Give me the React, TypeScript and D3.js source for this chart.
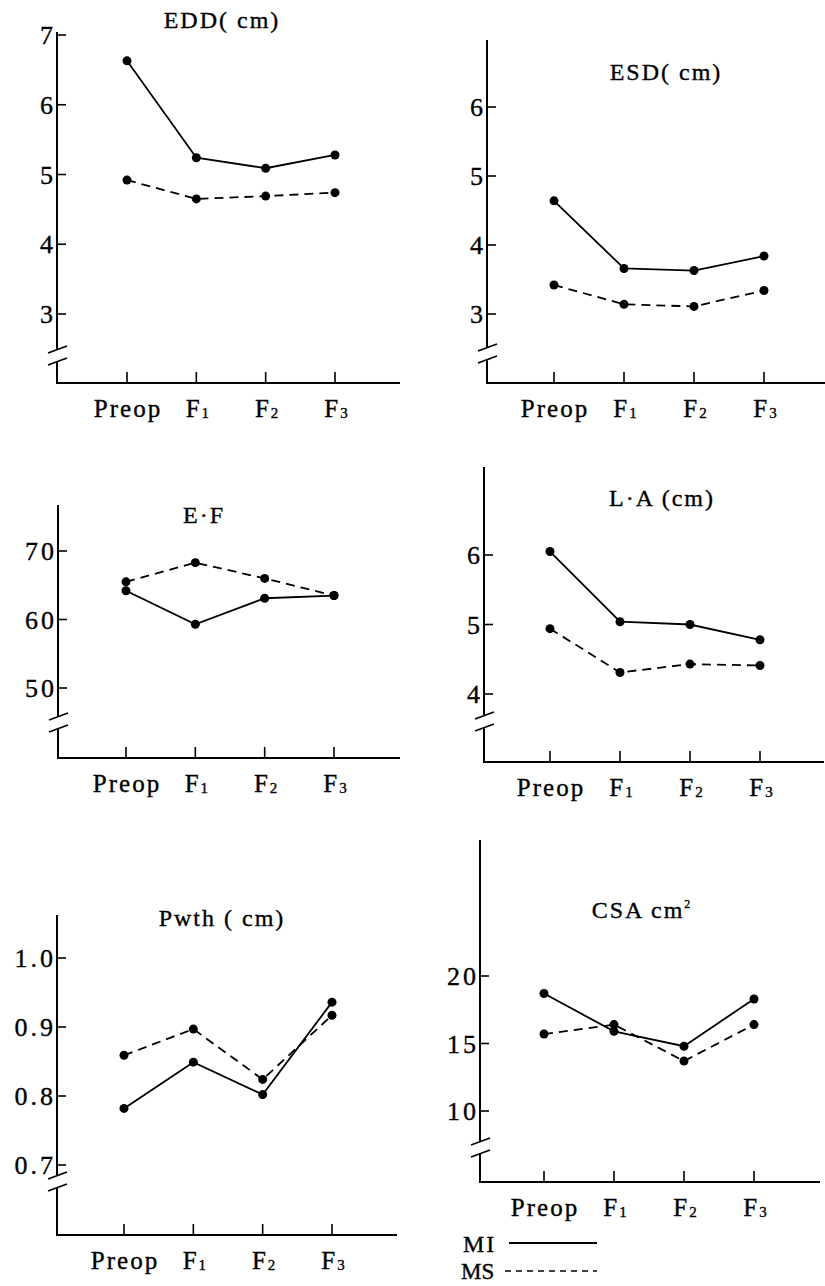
import React, { useEffect, useRef } from "react";
import * as d3 from "d3";

// x categories
const stages = ["Preop", "F1", "F2", "F3"];

// values (MI = solid, MS = dashed)
const eddMI = [6.63, 5.24, 5.09, 5.28];
const eddMS = [4.92, 4.65, 4.69, 4.74];
const eddTicks = [3, 4, 5, 6, 7];

const esdMI = [4.64, 3.66, 3.63, 3.84];
const esdMS = [3.42, 3.14, 3.11, 3.34];
const esdTicks = [3, 4, 5, 6];

const efMI = [64.2, 59.3, 63.1, 63.5];
const efMS = [65.5, 68.3, 66.0, 63.5];
const efTicks = [50, 60, 70];

const laMI = [6.05, 5.04, 5.0, 4.78];
const laMS = [4.94, 4.31, 4.43, 4.41];
const laTicks = [4, 5, 6];

const pwthMI = [0.782, 0.849, 0.802, 0.936];
const pwthMS = [0.859, 0.897, 0.824, 0.917];
const pwthTicks = [0.7, 0.8, 0.9, 1.0];

const csaMI = [18.7, 15.9, 14.8, 18.3];
const csaMS = [15.7, 16.4, 13.7, 16.4];
const csaTicks = [10, 15, 20];

const FONT = "Liberation Serif, DejaVu Serif, serif";

// layout of each small chart on the page
const panels = [
  { title: "EDD( cm)", sup: "", mi: eddMI, ms: eddMS, ticks: eddTicks, fmt: d3.format("d"),
    axisX: 57, top: 32, baseY: 383, xEnd: 400, xRange: [127, 335], yRange: [314, 35], breakY: 355, titleX: 222, titleY: 28 },
  { title: "ESD( cm)", sup: "", mi: esdMI, ms: esdMS, ticks: esdTicks, fmt: d3.format("d"),
    axisX: 487, top: 40, baseY: 383, xEnd: 825, xRange: [554, 764], yRange: [314, 107], breakY: 353, titleX: 666, titleY: 80 },
  { title: "E·F", sup: "", mi: efMI, ms: efMS, ticks: efTicks, fmt: d3.format("d"),
    axisX: 58, top: 505, baseY: 758, xEnd: 400, xRange: [126, 334], yRange: [688, 551], breakY: 722, titleX: 204, titleY: 523 },
  { title: "L·A (cm)", sup: "", mi: laMI, ms: laMS, ticks: laTicks, fmt: d3.format("d"),
    axisX: 484, top: 467, baseY: 762, xEnd: 824, xRange: [550, 760], yRange: [694, 555], breakY: 721, titleX: 662, titleY: 506 },
  { title: "Pwth ( cm)", sup: "", mi: pwthMI, ms: pwthMS, ticks: pwthTicks, fmt: d3.format(".1f"),
    axisX: 57, top: 915, baseY: 1235, xEnd: 397, xRange: [124, 332], yRange: [1165, 958], breakY: 1181, titleX: 222, titleY: 926 },
  { title: "CSA cm", sup: "2", mi: csaMI, ms: csaMS, ticks: csaTicks, fmt: d3.format("d"),
    axisX: 480, top: 840, baseY: 1182, xEnd: 820, xRange: [544, 754], yRange: [1111, 976], breakY: 1147, titleX: 642, titleY: 918 },
];

function styleText(t: any, size: number, spacing: number) {
  return t.attr("font-family", FONT)
    .attr("font-size", size)
    .attr("letter-spacing", spacing)
    .attr("fill", "#000")
    .attr("stroke", "#000")
    .attr("stroke-width", 0.35);
}

function drawPanel(svg: any, p: any) {
  const g = svg.append("g");
  const x = d3.scalePoint().domain(stages).range(p.xRange);
  const y = d3.scaleLinear()
    .domain([p.ticks[0], p.ticks[p.ticks.length - 1]])
    .range(p.yRange);

  // y axis, broken near the bottom
  g.append("line").attr("x1", p.axisX).attr("x2", p.axisX)
    .attr("y1", p.top).attr("y2", p.breakY - 6)
    .attr("stroke", "#000").attr("stroke-width", 2);
  g.append("line").attr("x1", p.axisX).attr("x2", p.axisX)
    .attr("y1", p.breakY + 6).attr("y2", p.baseY)
    .attr("stroke", "#000").attr("stroke-width", 2);
  [-6, 6].forEach(off => {
    g.append("line")
      .attr("x1", p.axisX - 9).attr("y1", p.breakY + off + 4)
      .attr("x2", p.axisX + 10).attr("y2", p.breakY + off - 3)
      .attr("stroke", "#000").attr("stroke-width", 1.8);
  });

  // x axis
  g.append("line").attr("x1", p.axisX - 1).attr("x2", p.xEnd)
    .attr("y1", p.baseY).attr("y2", p.baseY)
    .attr("stroke", "#000").attr("stroke-width", 2);

  // y ticks + labels
  g.selectAll(".ytick").data(p.ticks).join("line")
    .attr("class", "ytick")
    .attr("x1", p.axisX).attr("x2", p.axisX + 9)
    .attr("y1", (d: number) => y(d)).attr("y2", (d: number) => y(d))
    .attr("stroke", "#000").attr("stroke-width", 1.6);
  styleText(g.selectAll(".ylab").data(p.ticks).join("text")
    .attr("class", "ylab")
    .attr("x", p.axisX - 1)
    .attr("y", (d: number) => y(d) + 9)
    .attr("text-anchor", "end"), 26, 3)
    .text((d: number) => p.fmt(d));

  // x ticks + labels
  g.selectAll(".xtick").data(stages).join("line")
    .attr("class", "xtick")
    .attr("x1", (d: string) => x(d)).attr("x2", (d: string) => x(d))
    .attr("y1", p.baseY).attr("y2", p.baseY - 11)
    .attr("stroke", "#000").attr("stroke-width", 1.6);
  stages.forEach(s => {
    const t = styleText(g.append("text")
      .attr("x", (x(s) as number) + 1)
      .attr("y", p.baseY + 34)
      .attr("text-anchor", "middle"), 25, 2);
    const m = s.match(/^F(\d)$/);
    if (m) {
      t.append("tspan").text("F");
      t.append("tspan").attr("dy", 1).attr("font-size", 15).attr("letter-spacing", 0).text(m[1]);
    } else {
      t.text(s);
    }
  });

  // title
  const tt = styleText(g.append("text")
    .attr("x", p.titleX).attr("y", p.titleY)
    .attr("text-anchor", "middle"), 24, 2)
    .text(p.title);
  if (p.sup) {
    tt.append("tspan").attr("dy", -10).attr("font-size", 12).text(p.sup);
  }

  // series
  const line = d3.line<number>()
    .x((d, i) => x(stages[i]) as number)
    .y(d => y(d));
  [{ vals: p.ms, dash: "9,6" }, { vals: p.mi, dash: null }].forEach(s => {
    g.append("path").datum(s.vals)
      .attr("d", line)
      .attr("fill", "none")
      .attr("stroke", "#000")
      .attr("stroke-width", 1.8)
      .attr("stroke-dasharray", s.dash);
    g.append("g").selectAll("circle").data(s.vals).join("circle")
      .attr("cx", (d: number, i: number) => x(stages[i]) as number)
      .attr("cy", (d: number) => y(d))
      .attr("r", 4.5)
      .attr("fill", "#000");
  });
}

export default function App() {
  const ref = useRef<SVGSVGElement>(null);

  useEffect(() => {
    const svg = d3.select(ref.current);
    svg.selectAll("*").remove();
    svg.append("rect").attr("width", 825).attr("height", 1286).attr("fill", "#fff");

    panels.forEach(p => drawPanel(svg, p));

    // legend
    const leg = svg.append("g");
    styleText(leg.append("text").attr("x", 463).attr("y", 1252), 24, 2).text("MI");
    leg.append("line").attr("x1", 509).attr("x2", 597).attr("y1", 1243).attr("y2", 1243)
      .attr("stroke", "#000").attr("stroke-width", 1.8);
    styleText(leg.append("text").attr("x", 461).attr("y", 1279), 23, 0).text("MS");
    leg.append("line").attr("x1", 505).attr("x2", 597).attr("y1", 1271).attr("y2", 1271)
      .attr("stroke", "#000").attr("stroke-width", 1.5).attr("stroke-dasharray", "6,5");
  }, []);

  return (
    <svg ref={ref} width={825} height={1286}
      style={{ position: "absolute", left: 0, top: 0 }} />
  );
}
